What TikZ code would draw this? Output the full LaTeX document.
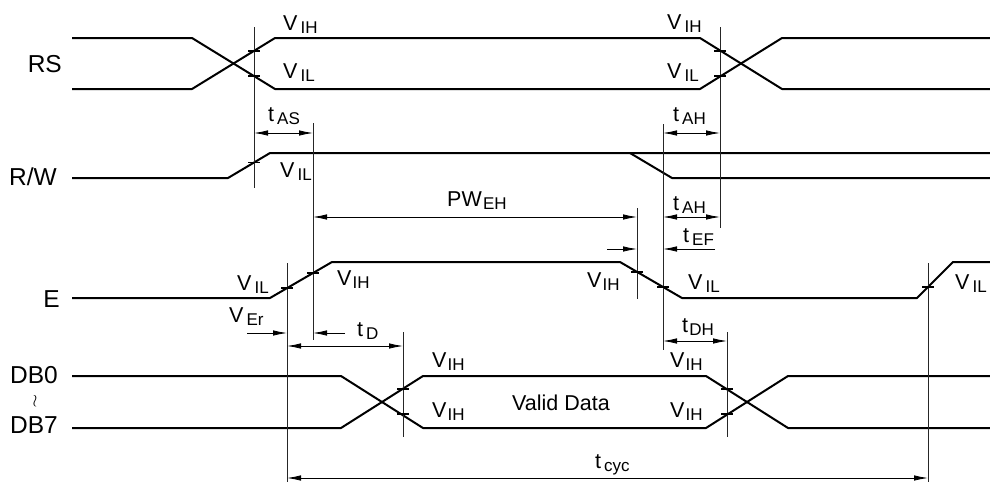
\documentclass[tikz,border=0pt]{standalone}
\usepackage{fontspec}
\setmainfont{Liberation Sans}
\usetikzlibrary{arrows.meta}
\newcommand\mysub[2]{#1\hspace{3pt}\raisebox{-3pt}{\fontsize{17}{18}\selectfont #2}}
\newcommand\mysubn[2]{#1\hspace{1.2pt}\raisebox{-3pt}{\fontsize{17}{18}\selectfont #2}}
\begin{document}
\begin{tikzpicture}[x=1pt,y=-1pt,
  sig/.style={line width=2pt, line join=round},
  guide/.style={line width=0.8pt, black!85},
  dimline/.style={line width=0.8pt, {Latex[length=14pt,width=5.5pt]}-{Latex[length=14pt,width=5.5pt]}},
  dimone/.style={line width=0.8pt, -{Latex[length=14pt,width=5.5pt]}},
  tickmark/.style={line width=1.8pt},
  lab/.style={anchor=base west, inner sep=0pt, font=\fontsize{21.5}{24}\selectfont},
  signame/.style={anchor=base east, inner sep=0pt, font=\fontsize{24.5}{26}\selectfont}]
\useasboundingbox (0,0) rectangle (990,482);

% signal names
\node[signame] (nRS) at (62,72) {RS};
\node[signame] (nRW) at (57,185) {R/W};
\node[signame] (nE) at (60,307) {E};
\node[signame] (nDB0) at (58,383) {DB0};
\node[inner sep=0pt, font=\fontsize{17}{17}\selectfont] (nwr) at (35,401) {$\wr$};
\node[signame] (nDB7) at (58,433) {DB7};

% signals
\draw[sig] (72,38) -- (192,38) -- (275,89) -- (700,89) -- (782,38) -- (990,38);
\draw[sig] (72,89) -- (192,89) -- (275,38) -- (700,38) -- (782,89) -- (990,89);
\draw[sig] (72,178) -- (228,178) -- (270,153) -- (990,153);
\draw[sig, line width=2.5pt] (270,153) -- (990,153);
\draw[sig] (630,153) -- (672,178) -- (990,178);
\draw[sig] (72,298) -- (270,298) -- (332,262) -- (620,262) -- (682,298) -- (917,298) -- (953,262) -- (990,262);
\draw[sig] (72,376) -- (341,376) -- (423,428) -- (706,428) -- (788,376) -- (990,376);
\draw[sig] (72,428) -- (341,428) -- (423,376) -- (706,376) -- (788,428) -- (990,428);

% guide lines
\coordinate (gAt) at (254,27);  \coordinate (gAb) at (254,188);
\coordinate (gBt) at (313,123); \coordinate (gBb) at (313,340);
\coordinate (gCt) at (637,208); \coordinate (gCb) at (637,299);
\coordinate (gDt) at (663,124); \coordinate (gDb) at (663,350);
\coordinate (gEt) at (720,27);  \coordinate (gEb) at (720,228);
\coordinate (gFt) at (287,263); \coordinate (gFb) at (287,482);
\coordinate (gGt) at (403,332); \coordinate (gGb) at (403,437);
\coordinate (gHt) at (727,332); \coordinate (gHb) at (727,437);
\coordinate (gIt) at (928,263); \coordinate (gIb) at (928,482);
\foreach \g in {gA,gB,gC,gD,gE,gF,gG,gH,gI}
  \draw[guide] (\g t) -- (\g b);

% ticks
\foreach \x/\y in {254/51,254/76,720/51,720/76,254/162.5,287/288,313/273,637/272,663/287,928/287,403/389,403/414,727/389,727/414}
  \draw[tickmark] (\x-6,\y) -- (\x+6,\y);

% dimension levels
\coordinate (yAS) at (0,133);
\coordinate (yPW) at (0,217);
\coordinate (yEF) at (0,249);
\coordinate (yEr) at (0,333);
\coordinate (yD) at (0,346);
\coordinate (yDH) at (0,341);
\coordinate (yCy) at (0,478);
\coordinate (efL) at (607,249);
\coordinate (efR) at (715,249);
\coordinate (erL) at (247,333);
\coordinate (erR) at (345,333);

\draw[dimline] (gAt |- yAS) -- (gBt |- yAS);
\draw[dimline] (gDt |- yAS) -- (gEt |- yAS);
\draw[dimline] (gBt |- yPW) -- (gCt |- yPW);
\draw[dimline] (gDt |- yPW) -- (gEt |- yPW);
\draw[dimone] (efL) -- (gCt |- yEF);
\draw[dimone] (efR) -- (gDt |- yEF);
\draw[dimone] (erL) -- (gFt |- yEr);
\draw[dimone] (erR) -- (gBt |- yEr);
\draw[dimline] (gFt |- yD) -- (gGt |- yD);
\draw[dimline] (gDt |- yDH) -- (gHt |- yDH);
\draw[dimline] (gFt |- yCy) -- (gIt |- yCy);

% labels
\node[lab] (l1) at (283,30) {\mysub{V}{IH}};
\node[lab] (l2) at (283,78) {\mysub{V}{IL}};
\node[lab] (l3) at (667,29) {\mysub{V}{IH}};
\node[lab] (l4) at (667,78) {\mysub{V}{IL}};
\node[lab] (l5) at (268,121) {\mysub{t}{AS}};
\node[lab] (l6) at (673,121) {\mysub{t}{AH}};
\node[lab] (l7) at (280,177) {\mysub{V}{IL}};
\node[lab] (l8) at (447,206) {\mysubn{PW}{EH}};
\node[lab] (l9) at (673,210) {\mysub{t}{AH}};
\node[lab] (l10) at (683,242) {\mysub{t}{EF}};
\node[lab] (l11) at (237,290) {\mysub{V}{IL}};
\node[lab] (l12) at (337,285) {\mysubn{V}{IH}};
\node[lab] (l13) at (587,287) {\mysubn{V}{IH}};
\node[lab] (l14) at (688,289) {\mysub{V}{IL}};
\node[lab] (l15) at (955,289) {\mysub{V}{IL}};
\node[lab] (l16) at (229,322) {\mysub{V}{Er}};
\node[lab] (l17) at (357,336) {\mysub{t}{D}};
\node[lab] (l18) at (682,332) {\mysubn{t}{DH}};
\node[lab] (l19) at (432,367) {\mysubn{V}{IH}};
\node[lab] (l20) at (432,417) {\mysubn{V}{IH}};
\node[lab] (l21) at (512,410) {Valid Data};
\node[lab] (l22) at (670,367) {\mysubn{V}{IH}};
\node[lab] (l23) at (670,417) {\mysubn{V}{IH}};
\node[lab] (l24) at (595,468) {\mysub{t}{cyc}};
\end{tikzpicture}
\end{document}
